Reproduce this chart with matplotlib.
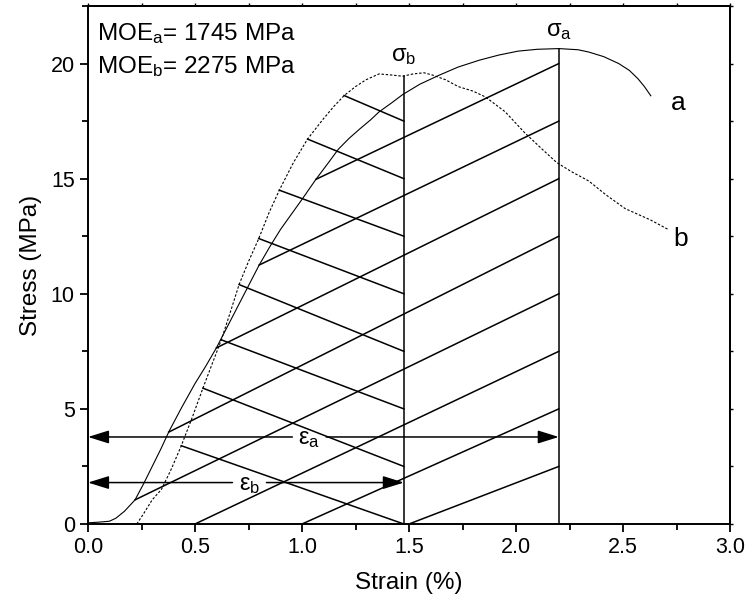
import numpy as np
import matplotlib.pyplot as plt

plt.rcParams['font.family'] = ['Liberation Sans', 'DejaVu Sans']
plt.rcParams['mathtext.fontset'] = 'custom'
plt.rcParams['mathtext.rm'] = 'Liberation Sans'
plt.rcParams['mathtext.it'] = 'Liberation Sans:italic'

# curve a (solid)
strain_a = [0.0, 0.05, 0.1, 0.13, 0.17, 0.22, 0.26, 0.3, 0.34, 0.38, 0.44, 0.5,
            0.55, 0.6, 0.65, 0.7, 0.75, 0.8, 0.85, 0.9, 0.95, 1.0, 1.065, 1.12,
            1.17, 1.22, 1.27, 1.32, 1.36, 1.42, 1.47, 1.55, 1.64, 1.73, 1.83,
            1.92, 2.01, 2.1, 2.2, 2.29, 2.34, 2.41, 2.48, 2.53, 2.57, 2.6, 2.63]
stress_a = [0.05, 0.08, 0.12, 0.25, 0.55, 1.05, 1.75, 2.5, 3.25, 4.05, 5.1, 6.1,
            6.85, 7.65, 8.55, 9.45, 10.35, 11.25, 12.05, 12.8, 13.45, 14.1, 14.97,
            15.65, 16.28, 16.75, 17.16, 17.55, 17.9, 18.3, 18.65, 19.1, 19.49,
            19.85, 20.15, 20.37, 20.54, 20.62, 20.65, 20.6, 20.5, 20.3, 20.0,
            19.7, 19.34, 19.0, 18.6]

# curve b (dotted)
strain_b = [0.228, 0.26, 0.3, 0.343, 0.39, 0.436, 0.49, 0.537, 0.58, 0.623,
            0.665, 0.706, 0.75, 0.798, 0.845, 0.894, 0.96, 1.026, 1.1, 1.15,
            1.197, 1.25, 1.3, 1.36, 1.42, 1.47, 1.52, 1.57, 1.61, 1.67, 1.73,
            1.8, 1.857, 1.95, 2.04, 2.12, 2.19, 2.26, 2.34, 2.42, 2.51, 2.57,
            2.63, 2.71]
stress_b = [0.0, 0.45, 1.05, 1.5, 2.4, 3.4, 4.7, 5.9, 6.95, 8.0, 9.2, 10.4,
            11.4, 12.4, 13.5, 14.5, 15.7, 16.72, 17.6, 18.15, 18.61, 19.0, 19.3,
            19.55, 19.5, 19.45, 19.55, 19.6, 19.5, 19.3, 19.0, 18.8, 18.55,
            17.9, 17.0, 16.3, 15.7, 15.3, 14.9, 14.3, 13.7, 13.45, 13.2, 12.8]

eps_a, sig_a = 2.2, 20.65
eps_b, sig_b = 1.476, 19.45

# hatching of area a: lines from curve a (or strain axis) up to the eps_a line
hatch_a_from = [0.22, 0.377, 0.6, 0.8, 1.065]
hatch_a_to = [10.0, 12.5, 15.0, 17.5, 20.0]
hatch_a_base = [0.5, 1.0, 1.5]
hatch_a_base_to = [7.5, 5.0, 2.5]
# hatching of area b: lines from curve b down to the eps_b line
hatch_b_from = [0.436, 0.537, 0.623, 0.706, 0.798, 0.894, 1.026, 1.197]
hatch_b_to = [0.0, 2.5, 5.0, 7.5, 10.0, 12.5, 15.0, 17.5]

fig = plt.figure(figsize=(7.46, 6.05), dpi=100)
ax = fig.add_axes([88 / 746, 1 - 524 / 605, (730 - 88) / 746, (524 - 6) / 605])

ax.plot(strain_a, stress_a, color='black', lw=0.8)
ax.plot(strain_b, stress_b, color='black', lw=0.8, ls=(0, (2.2, 1.6)))

lw = 1.1
for x0, y1 in zip(hatch_a_from, hatch_a_to):
    y0 = np.interp(x0, strain_a, stress_a)
    ax.plot([x0, eps_a], [y0, y1], color='black', lw=lw)
for x0, y1 in zip(hatch_a_base, hatch_a_base_to):
    ax.plot([x0, eps_a], [0, y1], color='black', lw=lw)
for x0, y1 in zip(hatch_b_from, hatch_b_to):
    y0 = np.interp(x0, strain_b, stress_b)
    ax.plot([x0, eps_b], [y0, y1], color='black', lw=lw)

ax.plot([eps_a, eps_a], [0, sig_a], color='black', lw=lw)
ax.plot([eps_b, eps_b], [0, sig_b], color='black', lw=lw)

# strain arrows with a gap for the label
arr = dict(arrowstyle='-|>,head_length=0.8,head_width=0.25', color='black',
           lw=1.1, mutation_scale=16, shrinkA=0, shrinkB=0)
ya, yb = 3.78, 1.8
ax.annotate('', xy=(0, ya), xytext=(0.955, ya), arrowprops=arr)
ax.annotate('', xy=(eps_a, ya), xytext=(1.113, ya), arrowprops=arr)
ax.annotate('', xy=(0, yb), xytext=(0.675, yb), arrowprops=arr)
ax.annotate('', xy=(eps_b, yb), xytext=(0.834, yb), arrowprops=arr)
ax.text(1.035, ya - 0.1, r'$\mathrm{ε_a}$', fontsize=17, ha='center', va='center')
ax.text(0.755, yb - 0.1, r'$\mathrm{ε_b}$', fontsize=17, ha='center', va='center')

ax.text(eps_a, sig_a + 0.3, r'$\mathrm{σ_a}$', fontsize=17, ha='center', va='bottom')
ax.text(eps_b, sig_b + 0.4, r'$\mathrm{σ_b}$', fontsize=17, ha='center', va='bottom')

ax.text(2.76, 18.3, 'a', fontsize=19, ha='center', va='center')
ax.text(2.77, 12.4, 'b', fontsize=19, ha='center', va='center')

ax.text(0.04, 21.3, r'MOE$_\mathrm{a}$= 1745 MPa', fontsize=17.5, va='center')
ax.text(0.04, 19.85, r'MOE$_\mathrm{b}$= 2275 MPa', fontsize=17.5, va='center')

ax.set_xlim(0, 3.0)
ax.set_ylim(0, 22.5)
ax.set_xticks(np.arange(0, 3.01, 0.5))
ax.set_xticks(np.arange(0, 3.01, 0.25), minor=True)
ax.set_yticks([0, 5, 10, 15, 20])
ax.set_yticks(np.arange(0, 22.6, 2.5), minor=True)
ax.xaxis.set_major_formatter(plt.FuncFormatter(lambda v, p: f'{v:.1f}'))
ax.tick_params(which='both', direction='out', width=1.3, labelsize=15.5)
ax.tick_params(which='major', length=6)
ax.tick_params(which='minor', length=4)
sec_x = ax.secondary_xaxis('top')
sec_x.set_xticks(np.arange(0, 3.01, 0.25))
sec_x.tick_params(length=2, width=1, labeltop=False)
sec_y = ax.secondary_yaxis('right')
sec_y.set_yticks(np.arange(0, 22.6, 2.5))
sec_y.tick_params(length=2, width=1, labelright=False)
for s in list(ax.spines.values()) + [sec_x.spines['top'], sec_y.spines['right']]:
    s.set_linewidth(1.4)
ax.set_xlabel('Strain (%)', fontsize=17.5, labelpad=10)
ax.set_ylabel('Stress (MPa)', fontsize=17.5, labelpad=6)

fig.savefig('out.png', dpi=100)
